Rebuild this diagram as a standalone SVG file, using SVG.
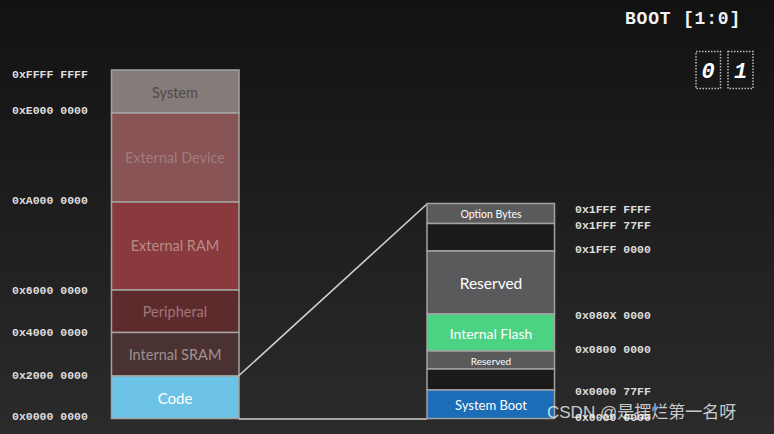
<svg xmlns="http://www.w3.org/2000/svg" width="774" height="434" viewBox="0 0 774 434">
<defs>
<linearGradient id="bg" x1="0" y1="0" x2="0" y2="1">
<stop offset="0" stop-color="#121212"/>
<stop offset="1" stop-color="#2b2b2b"/>
</linearGradient>
<style>
.addr{font-family:"Liberation Mono","DejaVu Sans Mono",monospace;font-weight:bold;font-size:11.5px;fill:#dedede}
.blk{stroke:#a3a3a3;stroke-width:1.5}
.lbl{font-family:Lato,"Noto Sans",sans-serif;text-anchor:middle;dominant-baseline:central}
.conn{stroke:#cfcfcf;stroke-width:1.6;fill:none}
.digit{font-family:"Liberation Mono","DejaVu Sans Mono",monospace;font-weight:bold;font-style:italic;font-size:22px;fill:#ffffff;text-anchor:middle}
.dot{fill:none;stroke:#bdbdbd;stroke-width:1.5;stroke-dasharray:1.5 1.5}
</style>
</defs>
<rect width="774" height="434" fill="url(#bg)"/>

<text x="625" y="24" font-family="Liberation Mono,DejaVu Sans Mono,monospace" font-weight="bold" font-size="18" fill="#f2f2f2" letter-spacing="0.8">BOOT [1:0]</text>
<g id="boot0">
<rect class="dot" x="696" y="51.5" width="24.5" height="37"/>
<text class="digit" x="708" y="78">0</text>
</g>
<g id="boot1">
<rect class="dot" x="728" y="51.5" width="25" height="37"/>
<text class="digit" x="740.5" y="78">1</text>
</g>

<g id="left-addresses">
<text class="addr" x="12" y="78">0xFFFF FFFF</text>
<text class="addr" x="12" y="114">0xE000 0000</text>
<text class="addr" x="12" y="204">0xA000 0000</text>
<text class="addr" x="12" y="294">0x6000 0000</text>
<text class="addr" x="12" y="336">0x4000 0000</text>
<text class="addr" x="12" y="379">0x2000 0000</text>
<text class="addr" x="12" y="420">0x0000 0000</text>
</g>

<g id="system">
<rect class="blk" x="111.5" y="70" width="127.5" height="43" fill="#857b79"/>
<text class="lbl" x="175" y="92" font-size="14.5" fill="#4f4a4a">System</text>
</g>
<g id="external-device">
<rect class="blk" x="111.5" y="113" width="127.5" height="89" fill="#885455"/>
<text class="lbl" x="175" y="157" font-size="14.5" fill="#a27c7c">External Device</text>
</g>
<g id="external-ram">
<rect class="blk" x="111.5" y="202" width="127.5" height="88" fill="#8a3a3c"/>
<text class="lbl" x="175" y="245" font-size="14.5" fill="#b78a8a">External RAM</text>
</g>
<g id="peripheral">
<rect class="blk" x="111.5" y="290" width="127.5" height="42.5" fill="#5e2b2d"/>
<text class="lbl" x="175" y="311.5" font-size="14.5" fill="#a07777">Peripheral</text>
</g>
<g id="internal-sram">
<rect class="blk" x="111.5" y="332.5" width="127.5" height="43.5" fill="#4a3233"/>
<text class="lbl" x="175" y="354.5" font-size="14.5" fill="#a09090">Internal SRAM</text>
</g>
<g id="code">
<rect class="blk" x="111.5" y="376" width="127.5" height="42.5" fill="#6dc3e6"/>
<text class="lbl" x="175" y="397.5" font-size="15" fill="#ffffff">Code</text>
</g>

<g id="connectors">
<line class="conn" x1="239" y1="375.5" x2="427" y2="204"/>
<line class="conn" x1="239" y1="419" x2="427" y2="419"/>
</g>

<g id="option-bytes">
<rect class="blk" x="427" y="203.5" width="127.5" height="20" fill="#5a5a5c"/>
<text class="lbl" x="491" y="213.5" font-size="10.5" fill="#ffffff">Option Bytes</text>
</g>
<g id="gap-top">
<rect class="blk" x="427" y="223.5" width="127.5" height="27.5" fill="#1a1a1a"/>
</g>
<g id="reserved">
<rect class="blk" x="427" y="251" width="127.5" height="63" fill="#5a595b"/>
<text class="lbl" x="491" y="282.5" font-size="15.5" fill="#ffffff">Reserved</text>
</g>
<g id="internal-flash">
<rect class="blk" x="427" y="314" width="127.5" height="37" fill="#4cd283"/>
<text class="lbl" x="491" y="333" font-size="14" fill="#ffffff">Internal Flash</text>
</g>
<g id="reserved-small">
<rect class="blk" x="427" y="351" width="127.5" height="18" fill="#5a595b"/>
<text class="lbl" x="491" y="360.5" font-size="10" fill="#ffffff">Reserved</text>
</g>
<g id="gap-bottom">
<rect class="blk" x="427" y="369" width="127.5" height="21" fill="#1a1a1a"/>
</g>
<g id="system-boot">
<rect class="blk" x="427" y="390" width="127.5" height="28.5" fill="#1a6db6"/>
<text class="lbl" x="491" y="404.5" font-size="13" fill="#ffffff">System Boot</text>
</g>

<g id="right-addresses">
<text class="addr" x="575" y="213">0x1FFF FFFF</text>
<text class="addr" x="575" y="229">0x1FFF 77FF</text>
<text class="addr" x="575" y="253">0x1FFF 0000</text>
<text class="addr" x="575" y="319">0x080X 0000</text>
<text class="addr" x="575" y="353">0x0800 0000</text>
<text class="addr" x="575" y="395">0x0000 77FF</text>
<text class="addr" x="575" y="421">0x0000 0000</text>
</g>

<text x="547" y="418" font-family="Liberation Sans,Noto Sans CJK SC,sans-serif" font-size="17" fill="#ffffff" fill-opacity="0.75">CSDN @是摆烂第一名呀</text>
</svg>
